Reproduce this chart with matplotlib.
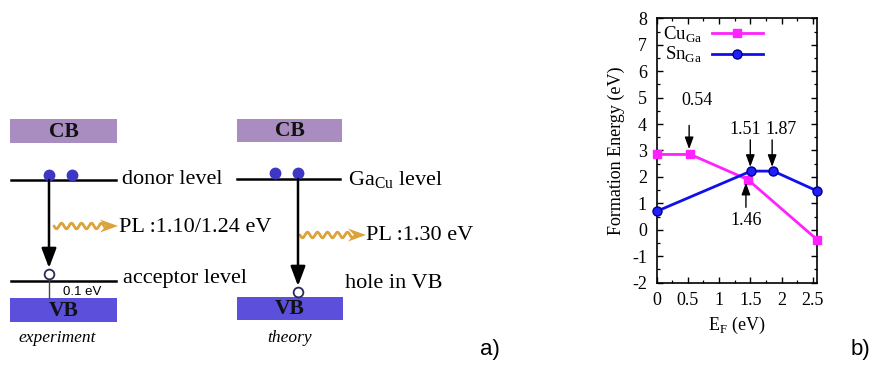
import numpy as np
import matplotlib.pyplot as plt
from matplotlib.patches import Rectangle, Polygon
from matplotlib.ticker import MultipleLocator

plt.rcParams['font.family'] = 'Liberation Serif'
plt.rcParams['axes.unicode_minus'] = False

# ---- panel b data: formation energy vs Fermi level ----
cu_x = [0.0, 0.54, 1.46, 2.57]
cu_y = [2.85, 2.85, 1.90, -0.37]
sn_x = [0.0, 1.51, 1.87, 2.57]
sn_y = [0.70, 2.22, 2.22, 1.47]
series_labels = ['Cu$_\\mathregular{Ga}$', 'Sn$_\\mathregular{Ga}$']
xticks = [0, 0.5, 1, 1.5, 2, 2.5]
xtick_labels = ['0', '0.5', '1', '1.5', '2', '2.5']
yticks = list(range(-2, 9))

# transition levels: label, arrow x, tail y, head y, text x, text y
marks = [
    ("0.54", 0.52, 3.95, 3.05, 0.64, 4.9),
    ("1.51", 1.50, 3.40, 2.38, 1.42, 3.78),
    ("1.87", 1.85, 3.40, 2.38, 2.00, 3.78),
    ("1.46", 1.43, 0.85, 1.78, 1.44, 0.37),
]

# ---- panel a: level diagram texts ----
cb_text, vb_text = "CB", "VB"
exp_labels = ["donor level", "PL :1.10/1.24 eV", "acceptor level", "0.1 eV", "experiment"]
th_labels = ["Ga$_\\mathregular{Cu}$ level", "PL :1.30 eV", "hole in VB", "theory"]

CB_COLOR = '#a98cc0'
VB_COLOR = '#5b4fdb'
DOT_COLOR = '#3d37c4'
PL_COLOR = '#dba33a'

fig = plt.figure(figsize=(8.75, 3.65), dpi=100)

# diagram drawn on a pixel-coordinate canvas
dg = fig.add_axes([0, 0, 1, 1])
dg.set_xlim(0, 875)
dg.set_ylim(365, 0)
dg.axis('off')


def band_box(x, y, w, h, color, label):
    dg.add_patch(Rectangle((x, y), w, h, facecolor=color, edgecolor='none'))
    dg.text(x + w / 2, y + h / 2 + 1, label, ha='center', va='center',
            fontsize=15.5, fontweight='bold', color='#111111')


def wavy_arrow(x0, x1, yc):
    xs = np.linspace(x0, x1 - 12, 200)
    ys = yc + 2.8 * np.sin(2 * np.pi * (xs - x0) / 10.0)
    dg.plot(xs, ys, color=PL_COLOR, lw=2.0, solid_capstyle='round')
    dg.add_patch(Polygon([(x1, yc), (x1 - 18, yc - 6.5), (x1 - 12, yc), (x1 - 18, yc + 6.5)],
                         closed=True, facecolor=PL_COLOR, edgecolor='none'))


def down_arrow(x, y0, y1):
    dg.annotate('', xy=(x, y1), xytext=(x, y0),
                arrowprops=dict(arrowstyle='-|>,head_length=0.85,head_width=0.32',
                                mutation_scale=14, color='black', lw=1.8,
                                shrinkA=0, shrinkB=0))


# experiment
band_box(10, 119, 107, 24, CB_COLOR, cb_text)
band_box(10, 298, 107, 24, VB_COLOR, vb_text)
dg.plot([11, 116], [180, 180], color='black', lw=1.8)
dg.plot([11, 116], [281, 281], color='black', lw=1.8)
dg.plot([49, 72], [175, 175], 'o', ms=7.5, color=DOT_COLOR)
down_arrow(49, 180, 268)
dg.plot([49, 49], [278, 298], color='#444444', lw=1.0)
dg.plot([49], [274], 'o', ms=7, mfc='white', mec='#2a2a5a', mew=1.3)
wavy_arrow(54, 118, 226)
dg.text(122, 179, exp_labels[0], va='center', fontsize=16)
dg.text(119, 227, exp_labels[1], va='center', fontsize=16)
dg.text(123, 278, exp_labels[2], va='center', fontsize=16)
dg.text(63, 292, exp_labels[3], va='center', fontsize=9.5, family='Liberation Sans')
dg.text(57, 338, exp_labels[4], ha='center', va='center', fontsize=12.5, style='italic')

# theory
band_box(237, 119, 105, 23, CB_COLOR, cb_text)
band_box(237, 297, 106, 23, VB_COLOR, vb_text)
dg.plot([237, 340], [179, 179], color='black', lw=1.8)
dg.plot([275, 298], [173, 173], 'o', ms=7.5, color=DOT_COLOR)
down_arrow(298, 179, 286)
dg.plot([298], [292], 'o', ms=7, mfc='white', mec='#2a2a5a', mew=1.3)
wavy_arrow(300, 366, 235)
dg.text(348, 180, th_labels[0], va='center', fontsize=16)
dg.text(366, 236, th_labels[1], va='center', fontsize=16)
dg.text(345, 283, th_labels[2], va='center', fontsize=16)
dg.text(290, 338, th_labels[3], ha='center', va='center', fontsize=12.5, style='italic')

dg.text(490, 350, "a)", ha='center', va='center', fontsize=16, family='Liberation Sans')
dg.text(860, 350, "b)", ha='center', va='center', fontsize=16, family='Liberation Sans')

# ---- panel b plot ----
ax = fig.add_axes([0.7505, 0.2255, 0.1833, 0.7244])
ax.plot(cu_x, cu_y, color='#ff22ff', lw=2, marker='s', ms=5.5,
        mec='#ff22ff', label=series_labels[0], clip_on=False, zorder=3)
ax.plot(sn_x, sn_y, color='#1010ee', lw=2, marker='o', ms=6.5,
        mfc='#2020ff', mec='#000088', mew=1.0, label=series_labels[1],
        clip_on=False, zorder=3)

for label, xa, y0, y1, tx, ty in marks:
    ax.annotate('', xy=(xa, y1), xytext=(xa, y0),
                arrowprops=dict(arrowstyle='-|>,head_length=0.6,head_width=0.22',
                                mutation_scale=12, color='black', lw=1.0,
                                shrinkA=0, shrinkB=0))
    ax.text(tx, ty, label, ha='center', va='center', fontsize=13)

ax.set_xlim(0, 2.57)
ax.set_ylim(-2, 8)
ax.set_xticks(xticks)
ax.set_xticklabels(xtick_labels)
ax.set_yticks(yticks)
ax.xaxis.set_minor_locator(MultipleLocator(0.25))
ax.yaxis.set_minor_locator(MultipleLocator(0.5))
ax.tick_params(which='both', direction='in', top=True, right=True, labelsize=13)
ax.tick_params(which='major', length=4, width=1.0, pad=7)
ax.tick_params(which='minor', length=2.2, width=0.9)
for s in ax.spines.values():
    s.set_linewidth(1.2)
ax.set_xlabel('E$_\\mathregular{F}$ (eV)', fontsize=13, labelpad=4)
ax.set_ylabel('Formation Energy (eV)', fontsize=13, labelpad=5)
ax.legend(loc='upper left', frameon=False, markerfirst=False, fontsize=13.5,
          handlelength=2.7, handletextpad=0.5, labelspacing=0.0,
          borderaxespad=0.25, borderpad=0.1)

fig.savefig('out.png', dpi=100)
